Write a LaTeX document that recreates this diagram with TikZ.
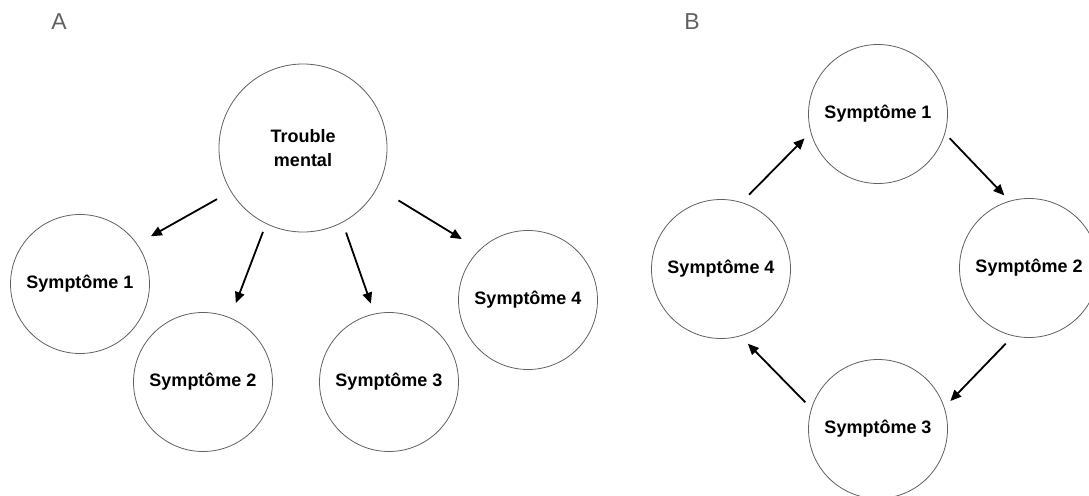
\documentclass[tikz,border=0pt]{standalone}
\usepackage{fontspec}
\setmainfont{Liberation Sans}
\usetikzlibrary{arrows.meta}
\tikzset{
  circ/.style={circle, draw=black!62, line width=0.8pt, minimum size=#1, inner sep=0pt, outer sep=0pt,
    font=\bfseries\fontsize{18}{24}\selectfont, align=center},
  arr/.style={-{Triangle[length=11pt,width=9.5pt]}, line width=1.8pt},
  panel/.style={font=\fontsize{23}{26}\selectfont, text=black!62, inner sep=0pt}
}
\begin{document}
\begin{tikzpicture}[x=1pt,y=-1pt]
\useasboundingbox (0,0) rectangle (1089,495);
\clip (0,0) rectangle (1089,495);
\fill[white] (0,0) rectangle (1089,495);
% panel labels
\node[panel] (la) at (59,22) {A};
\node[panel] (lb) at (692,22) {B};
% panel A
\node[circ=168pt] (T) at (303,148) {Trouble\\mental};
\node[circ=139pt] (a1) at (80,284) {Symptôme 1};
\node[circ=139pt] (a2) at (203,382) {Symptôme 2};
\node[circ=139pt] (a3) at (389,382) {Symptôme 3};
\node[circ=139pt] (a4) at (528,300) {Symptôme 4};
\draw[arr, shorten <=16pt, shorten >=16pt] (T.211) -- (a1.35);
\draw[arr, shorten <=9pt, shorten >=16pt] (T.244) -- (a2.67);
\draw[arr, shorten <=11pt, shorten >=11pt] (T.298) -- (a3.102);
\draw[arr, shorten <=25pt, shorten >=21pt] (T.332) -- (a4.134);
% panel B
\node[circ=139pt] (b1) at (878,114) {Symptôme 1};
\node[circ=139pt] (b2) at (1029,268) {Symptôme 2};
\node[circ=139pt] (b3) at (878,429) {Symptôme 3};
\node[circ=139pt] (b4) at (721,269) {Symptôme 4};
\draw[arr, shorten <=11pt, shorten >=9pt] (b4.73) -- (b1.195);
\draw[arr, shorten <=7pt, shorten >=8pt] (b1.344) -- (b2.106);
\draw[arr, shorten <=11pt, shorten >=9pt] (b2.257) -- (b3.18);
\draw[arr, shorten <=9pt, shorten >=11pt] (b3.163) -- (b4.286);
\end{tikzpicture}
\end{document}
